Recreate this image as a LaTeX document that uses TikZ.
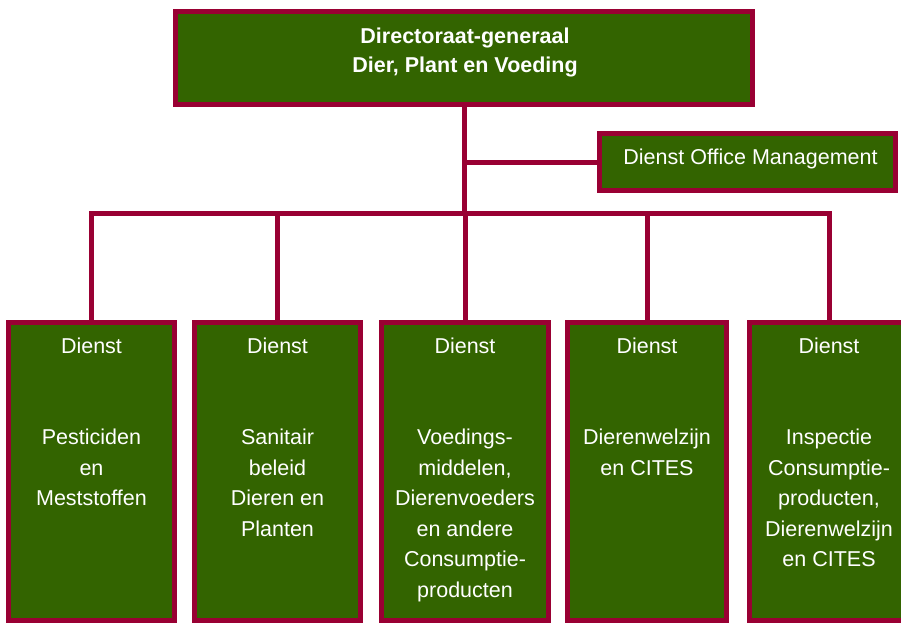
\documentclass[tikz,border=0pt]{standalone}
\usepackage{fontspec}
\setmainfont{Liberation Sans}
\definecolor{dgreen}{RGB}{51,100,0}
\definecolor{maroon}{RGB}{153,0,51}
\begin{document}
\begin{tikzpicture}[x=1pt,y=-1pt,
  box/.style={draw=maroon,fill=dgreen,line width=5pt,inner sep=0pt,minimum height=298pt},
  conn/.style={draw=maroon,line width=5pt,line join=miter},
  txt/.style={text=white,inner sep=0pt,anchor=north,align=center,font=\fontsize{21.5pt}{30.5pt}\selectfont},
  ttl/.style={text=white,inner sep=0pt,anchor=north,align=center,font=\bfseries\fontsize{21.5pt}{29pt}\selectfont}]
\useasboundingbox (0,0) rectangle (901,624);
\clip (0,0) rectangle (901,624);
\coordinate (bus) at (0,213);
% boxes
\node[box,minimum width=577pt,minimum height=93pt] (title) at (464,58) {};
\node[box,minimum width=296pt,minimum height=57pt] (office) at (747.5,162) {};
\node[box,minimum width=166pt] (b1) at (91.5,471.5) {};
\node[box,minimum width=166pt] (b2) at (277.5,471.5) {};
\node[box,minimum width=167pt] (b3) at (465,471.5) {};
\node[box,minimum width=159pt] (b4) at (647,471.5) {};
\node[box,minimum width=159pt] (b5) at (829,471.5) {};
% connectors
\draw[conn] (title.south) -- (title.south |- bus);
\draw[conn] (title.south |- office.west) -- (office.west);
\draw[conn] (b1.north) -- (b1.north |- bus) -- (b5.north |- bus) -- (b5.north);
\draw[conn] (b2.north) -- (b2.north |- bus);
\draw[conn] (b3.north) -- (b3.north |- bus);
\draw[conn] (b4.north) -- (b4.north |- bus);
% texts
\node[ttl] (ttitle) at (465,28) {Directoraat-generaal\\Dier, Plant en Voeding};
\node[txt] (toffice) at (750.5,148.5) {Dienst Office Management};
\node[txt] (t1) at (91.5,337.5) {Dienst\\[61pt]Pesticiden\\en\\Meststoffen};
\node[txt] (t2) at (277.5,337.5) {Dienst\\[61pt]Sanitair\\beleid\\Dieren en\\Planten};
\node[txt] (t3) at (465,337.5) {Dienst\\[61pt]Voedings-\\middelen,\\Dierenvoeders\\en andere\\Consumptie-\\producten};
\node[txt] (t4) at (647,337.5) {Dienst\\[61pt]Dierenwelzijn\\en CITES};
\node[txt] (t5) at (829,337.5) {Dienst\\[61pt]Inspectie\\Consumptie-\\producten,\\Dierenwelzijn\\en CITES};
\end{tikzpicture}
\end{document}
